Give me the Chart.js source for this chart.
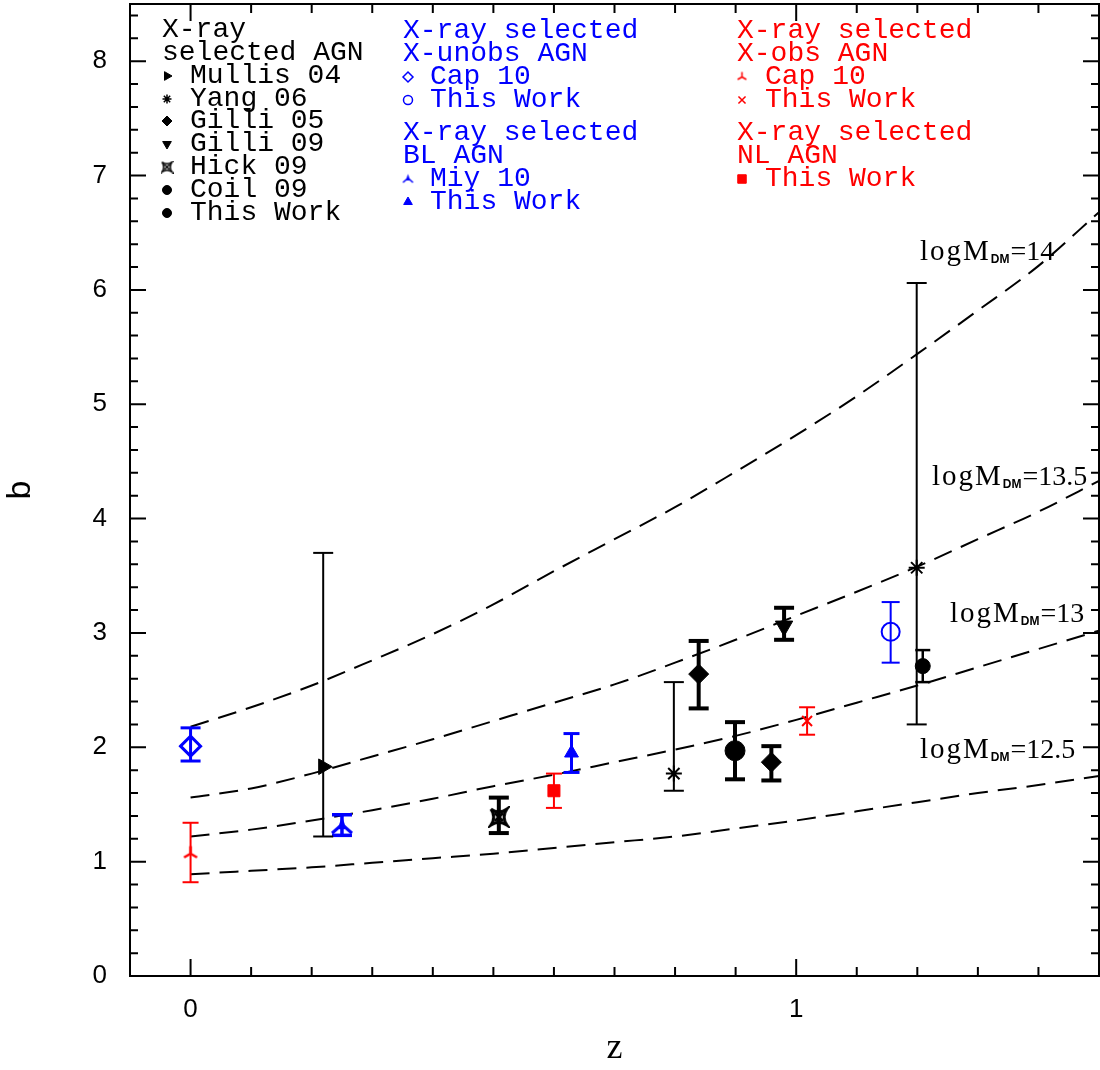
<!DOCTYPE html>
<html>
<head>
<meta charset="utf-8">
<title>AGN bias vs redshift</title>
<script src="https://cdn.jsdelivr.net/npm/chart.js@4.4.1/dist/chart.umd.min.js"></script>
<style>
  html, body { margin: 0; padding: 0; background: #fff; }
  #wrap { width: 1100px; height: 1070px; position: relative; }
</style>
</head>
<body>
<div id="wrap"><canvas id="biasChart"></canvas></div>
<script>
'use strict';

/* ── axes ─────────────────────────────────── */
const X_MIN = -0.1, X_MAX = 1.5;
const Y_MIN = 0,    Y_MAX = 8.5;
const xLabelTicks = [0, 1];
const yLabelTicks = [0, 1, 2, 3, 4, 5, 6, 7, 8];
const xMinorTicks = [-0.1, 0.1, 0.2, 0.3, 0.4, 0.5, 0.6, 0.7, 0.8, 0.9, 1.1, 1.2, 1.3, 1.4];
const yMinorTicks = [0.2, 0.4, 0.6, 0.8, 1.2, 1.4, 1.6, 1.8, 2.2, 2.4, 2.6, 2.8, 3.2, 3.4, 3.6, 3.8,
                     4.2, 4.4, 4.6, 4.8, 5.2, 5.4, 5.6, 5.8, 6.2, 6.4, 6.6, 6.8, 7.2, 7.4, 7.6, 7.8, 8.2, 8.4];

/* ── dark matter halo curves (logM_DM) ────── */
const curveZ   = [0, 0.1, 0.2, 0.3, 0.4, 0.5, 0.6, 0.7, 0.8, 0.9, 1.0, 1.1, 1.2, 1.3, 1.4, 1.5];
const curve14  = [2.18, 2.35, 2.54, 2.76, 2.99, 3.25, 3.54, 3.82, 4.10, 4.41, 4.73, 5.07, 5.44, 5.82, 6.21, 6.68];
const curve135 = [1.56, 1.64, 1.77, 1.92, 2.07, 2.23, 2.39, 2.55, 2.74, 2.94, 3.15, 3.36, 3.58, 3.82, 4.06, 4.33];
const curve13  = [1.22, 1.28, 1.36, 1.45, 1.55, 1.66, 1.76, 1.87, 1.98, 2.10, 2.24, 2.39, 2.54, 2.70, 2.86, 3.02];
const curve125 = [0.89, 0.92, 0.95, 0.99, 1.03, 1.07, 1.12, 1.17, 1.22, 1.29, 1.36, 1.44, 1.52, 1.60, 1.67, 1.75];
const curveMass = ['14', '13.5', '13', '12.5'];

/* ── X-ray selected AGN (black) ───────────── */
const mullisZ = [0.219],        mullisB = [1.83],        mullisLo = [1.22],        mullisHi = [3.70];
const yangZ   = [0.798, 1.199], yangB   = [1.77, 3.57],  yangLo   = [1.62, 2.20],  yangHi   = [2.57, 6.06];
const gil05Z  = [0.839, 0.959], gil05B  = [2.64, 1.87],  gil05Lo  = [2.34, 1.71],  gil05Hi  = [2.93, 2.01];
const gil09Z  = [0.980],        gil09B  = [3.06],        gil09Lo  = [2.94],        gil09Hi  = [3.22];
const hickZ   = [0.509],        hickB   = [1.39],        hickLo   = [1.25],        hickHi   = [1.56];
const coilZ   = [0.899],        coilB   = [1.97],        coilLo   = [1.72],        coilHi   = [2.22];
const twAllZ  = [1.209],        twAllB  = [2.71],        twAllLo  = [2.57],        twAllHi  = [2.85];

/* ── X-unobs / BL AGN (blue) ──────────────── */
const capUnZ  = [0],            capUnB  = [2.01],        capUnLo  = [1.88],        capUnHi  = [2.17];
const twUnZ   = [1.156],        twUnB   = [3.01],        twUnLo   = [2.74],        twUnHi   = [3.27];
const miyZ    = [0.250],        miyB    = [1.31],        miyLo    = [1.23],        miyHi    = [1.41];
const twBlZ   = [0.629],        twBlB   = [1.95],        twBlLo   = [1.78],        twBlHi   = [2.12];

/* ── X-obs / NL AGN (red) ─────────────────── */
const capObZ  = [0],            capObB  = [1.07],        capObLo  = [0.82],        capObHi  = [1.34];
const twObZ   = [1.018],        twObB   = [2.23],        twObLo   = [2.11],        twObHi   = [2.35];
const twNlZ   = [0.600],        twNlB   = [1.62],        twNlLo   = [1.47],        twNlHi   = [1.77];

const BLACK = '#000000', BLUE = '#0000ff', RED = '#ff0000';
const MONO  = '"Liberation Mono", "DejaVu Sans Mono", monospace';
const SANS  = '"Liberation Sans", Arial, sans-serif';
const SERIF = '"Liberation Serif", "Times New Roman", serif';

/* ── custom glyphs ────────────────────────── */
function makeGlyph(size, color, lineW, drawFn) {
  const c = document.createElement('canvas');
  c.width = c.height = size;
  const g = c.getContext('2d');
  g.translate(size / 2, size / 2);
  g.strokeStyle = g.fillStyle = color;
  g.lineWidth = lineW;
  drawFn(g, size / 2 - lineW);
  return c;
}
function hickPath(g, r) {
  const k = r * 0.3;
  g.beginPath();
  g.moveTo(-r, -r);
  g.quadraticCurveTo(0, -k, r, -r);
  g.quadraticCurveTo(k, 0, r, r);
  g.quadraticCurveTo(0, k, -r, r);
  g.quadraticCurveTo(-k, 0, -r, -r);
  g.stroke();
  g.beginPath();
  g.moveTo(-r * 0.5, -r * 0.5); g.lineTo(r * 0.5, r * 0.5);
  g.moveTo(r * 0.5, -r * 0.5);  g.lineTo(-r * 0.5, r * 0.5);
  g.stroke();
}
function capPath(g, r) {
  g.beginPath();
  g.moveTo(0, 0); g.lineTo(0, -r);
  g.moveTo(0, 0); g.lineTo(-r * 0.87, r * 0.5);
  g.moveTo(0, 0); g.lineTo(r * 0.87, r * 0.5);
  g.stroke();
}
function miyPath(g, r) {
  g.beginPath();
  g.moveTo(0, -r); g.lineTo(-r * 0.45, r * 0.3); g.lineTo(r * 0.45, r * 0.3);
  g.closePath(); g.fill();
  g.beginPath();
  g.moveTo(-r * 0.2, 0); g.lineTo(-r, r * 0.7);
  g.moveTo(r * 0.2, 0);  g.lineTo(r, r * 0.7);
  g.stroke();
}

const hickBig  = makeGlyph(22, BLACK, 3,   hickPath);
const hickSm   = makeGlyph(13, BLACK, 1.5, hickPath);
const capBig   = makeGlyph(20, RED,   2.5, capPath);
const capSm    = makeGlyph(13, RED,   1.5, capPath);
const miyBig   = makeGlyph(26, BLUE,  3,   miyPath);
const miySm    = makeGlyph(13, BLUE,  1.5, miyPath);

/* ── series table ─────────────────────────── */
const groups = [
  { z: mullisZ, b: mullisB, lo: mullisLo, hi: mullisHi, color: BLACK, style: 'triangle', rot: 90,  r: 9,   bar: 2, cap: 10 },
  { z: yangZ,   b: yangB,   lo: yangLo,   hi: yangHi,   color: BLACK, style: 'star',     r: 8, lw: 2,  bar: 2, cap: 10, open: true },
  { z: gil05Z,  b: gil05B,  lo: gil05Lo,  hi: gil05Hi,  color: BLACK, style: 'rectRot',  r: 10,  bar: 4, cap: 10 },
  { z: gil09Z,  b: gil09B,  lo: gil09Lo,  hi: gil09Hi,  color: BLACK, style: 'triangle', rot: 180, r: 10,  bar: 4, cap: 10 },
  { z: hickZ,   b: hickB,   lo: hickLo,   hi: hickHi,   color: BLACK, style: hickBig,    r: 9,   bar: 4, cap: 10 },
  { z: coilZ,   b: coilB,   lo: coilLo,   hi: coilHi,   color: BLACK, style: 'circle',   r: 10,  bar: 4, cap: 10 },
  { z: twAllZ,  b: twAllB,  lo: twAllLo,  hi: twAllHi,  color: BLACK, style: 'circle',   r: 7.5, bar: 2.5, cap: 7.5 },
  { z: capUnZ,  b: capUnB,  lo: capUnLo,  hi: capUnHi,  color: BLUE,  style: 'rectRot',  r: 10, lw: 3, bar: 3, cap: 10, open: true },
  { z: twUnZ,   b: twUnB,   lo: twUnLo,   hi: twUnHi,   color: BLUE,  style: 'circle',   r: 9, lw: 2,  bar: 2, cap: 9, open: true },
  { z: miyZ,    b: miyB,    lo: miyLo,    hi: miyHi,    color: BLUE,  style: miyBig,     r: 10,  bar: 3.5, cap: 10 },
  { z: twBlZ,   b: twBlB,   lo: twBlLo,   hi: twBlHi,   color: BLUE,  style: 'triangle', r: 8,   bar: 3, cap: 8 },
  { z: capObZ,  b: capObB,  lo: capObLo,  hi: capObHi,  color: RED,   style: capBig,     r: 8,   bar: 2, cap: 8 },
  { z: twObZ,   b: twObB,   lo: twObLo,   hi: twObHi,   color: RED,   style: 'crossRot', r: 7, lw: 2,  bar: 2, cap: 8, open: true },
  { z: twNlZ,   b: twNlB,   lo: twNlLo,   hi: twNlHi,   color: RED,   style: 'rect',     r: 8.5, bar: 2, cap: 8 },
];

/* ── legend text ──────────────────────────── */
const legendColumns = [
  { color: BLACK, headX: 162, itemX: 190, symX: 167,
    heads: [['X-ray', 37], ['selected AGN', 60]],
    items: [
      ['Mullis 04', 83,  { style: 'triangle', rot: 90, r: 5 }],
      ['Yang 06',   106, { style: 'star', r: 4.5, lw: 1.5, open: true }],
      ['Gilli 05',  128, { style: 'rectRot', r: 5 }],
      ['Gilli 09',  151, { style: 'triangle', rot: 180, r: 5 }],
      ['Hick 09',   174, { style: hickSm, r: 5 }],
      ['Coil 09',   197, { style: 'circle', r: 4.5 }],
      ['This Work', 220, { style: 'circle', r: 4.5 }],
    ] },
  { color: BLUE, headX: 403, itemX: 430, symX: 408,
    heads: [['X-ray selected', 38], ['X-unobs AGN', 61], ['X-ray selected', 140], ['BL AGN', 163]],
    items: [
      ['Cap 10',    84,  { style: 'rectRot', r: 5, lw: 1.5, open: true }],
      ['This Work', 107, { style: 'circle', r: 4.5, lw: 1.5, open: true }],
      ['Miy 10',    186, { style: miySm, r: 5 }],
      ['This Work', 209, { style: 'triangle', r: 5 }],
    ] },
  { color: RED, headX: 737, itemX: 765, symX: 742,
    heads: [['X-ray selected', 38], ['X-obs AGN', 61], ['X-ray selected', 140], ['NL AGN', 163]],
    items: [
      ['Cap 10',    84,  { style: capSm, r: 5 }],
      ['This Work', 107, { style: 'crossRot', r: 5, lw: 1.5, open: true }],
      ['This Work', 186, { style: 'rect', r: 6 }],
    ] },
];
const curveLabelPos = [[920, 260], [932, 485], [950, 622], [920, 758]];

/* ── datasets ─────────────────────────────── */
function curveSet(vals) {
  return {
    data: curveZ.map((z, i) => ({ x: z, y: vals[i] })),
    showLine: true,
    borderColor: BLACK,
    borderWidth: 2,
    borderDash: [19, 10],
    pointRadius: 0,
    cubicInterpolationMode: 'monotone',
    order: 3,
  };
}

function errorSets(g) {
  return g.z.map((z, i) => ({
    data: [{ x: z, y: g.lo[i] }, { x: z, y: g.hi[i] }],
    showLine: true,
    borderColor: g.color,
    borderWidth: g.bar,
    pointStyle: 'line',
    pointRadius: g.cap,
    pointBorderColor: g.color,
    pointBorderWidth: g.bar,
    order: 2,
  }));
}

function markerSet(g) {
  return {
    data: g.z.map((z, i) => ({ x: z, y: g.b[i] })),
    pointStyle: g.style,
    pointRotation: g.rot || 0,
    pointRadius: g.r,
    pointBackgroundColor: g.open ? 'rgba(0,0,0,0)' : g.color,
    pointBorderColor: g.color,
    pointBorderWidth: g.lw || 1,
    order: 0,
  };
}

const datasets = [
  ...[curve14, curve135, curve13, curve125].map(curveSet),
  ...groups.flatMap(errorSets),
  ...groups.map(markerSet),
];

/* ── frame, ticks, legend, labels ─────────── */
function drawSymbol(ctx, sym, x, y, color) {
  ctx.save();
  ctx.fillStyle   = sym.open ? 'rgba(0,0,0,0)' : color;
  ctx.strokeStyle = color;
  ctx.lineWidth   = sym.lw || 1;
  Chart.helpers.drawPoint(ctx, {
    pointStyle: sym.style, radius: sym.r, rotation: sym.rot || 0, borderWidth: sym.lw || 1,
  }, x, y);
  ctx.restore();
}

function drawCurveLabel(ctx, mass, x, y) {
  ctx.fillStyle = BLACK;
  ctx.textBaseline = 'alphabetic';
  ctx.font = '29px ' + SERIF;
  ctx.letterSpacing = '2px';
  ctx.fillText('logM', x, y);
  let w = ctx.measureText('logM').width;
  ctx.font = 'bold 12px ' + SANS;
  ctx.letterSpacing = '0px';
  ctx.fillText('DM', x + w, y + 3);
  w += ctx.measureText('DM').width + 1;
  ctx.font = '28px ' + SERIF;
  ctx.fillText('=' + mass, x + w, y);
}

const framePlugin = {
  id: 'frame',
  afterDraw(chart) {
    const { ctx, chartArea: a, scales: { x, y } } = chart;
    ctx.save();
    ctx.strokeStyle = BLACK;
    ctx.lineWidth = 2;
    ctx.strokeRect(a.left, a.top, a.right - a.left, a.bottom - a.top);

    ctx.beginPath();
    const tickX = (v, len) => {
      const px = x.getPixelForValue(v);
      ctx.moveTo(px, a.bottom); ctx.lineTo(px, a.bottom - len);
      ctx.moveTo(px, a.top);    ctx.lineTo(px, a.top + len);
    };
    const tickY = (v, len) => {
      const py = y.getPixelForValue(v);
      ctx.moveTo(a.left, py);  ctx.lineTo(a.left + len, py);
      ctx.moveTo(a.right, py); ctx.lineTo(a.right - len, py);
    };
    xLabelTicks.forEach(v => tickX(v, 17));
    xMinorTicks.forEach(v => tickX(v, 9));
    yLabelTicks.forEach(v => tickY(v, 16));
    yMinorTicks.forEach(v => tickY(v, 8));
    ctx.stroke();

    // legend
    ctx.font = '28px ' + MONO;
    ctx.textBaseline = 'alphabetic';
    for (const col of legendColumns) {
      ctx.fillStyle = col.color;
      col.heads.forEach(([text, ty]) => ctx.fillText(text, col.headX, ty));
      col.items.forEach(([text, ty, sym]) => {
        ctx.fillStyle = col.color;
        ctx.fillText(text, col.itemX, ty);
        drawSymbol(ctx, sym, col.symX, ty - 7, col.color);
      });
    }

    // halo mass labels
    curveMass.forEach((m, i) => drawCurveLabel(ctx, m, curveLabelPos[i][0], curveLabelPos[i][1]));
    ctx.restore();
  },
};

/* ── chart ────────────────────────────────── */
function zeroPadding(s) {
  s.paddingTop = 0; s.paddingBottom = 0;
  s.paddingLeft = 0; s.paddingRight = 0;
}

function init() {
  const canvas = document.getElementById('biasChart');
  if (!canvas || typeof Chart === 'undefined') return;

  new Chart(canvas.getContext('2d'), {
    type: 'scatter',
    data: { datasets },
    options: {
      responsive: true,
      maintainAspectRatio: false,
      animation: false,
      events: [],
      layout: { autoPadding: false, padding: { top: 4, right: 1, left: 0, bottom: 0 } },
      plugins: { legend: { display: false }, tooltip: { enabled: false } },
      scales: {
        x: {
          type: 'linear', min: X_MIN, max: X_MAX,
          grid: { display: false }, border: { display: false },
          ticks: { color: BLACK, font: { family: SANS, size: 26 }, padding: 10, maxRotation: 0, autoSkip: false,
                   callback: v => String(v) },
          title: { display: true, text: 'z', color: BLACK, font: { family: SERIF, size: 36 }, padding: 0 },
          afterBuildTicks: s => { s.ticks = xLabelTicks.map(v => ({ value: v })); },
          afterFit: s => { s.height = 94; zeroPadding(s); },
        },
        y: {
          type: 'linear', min: Y_MIN, max: Y_MAX,
          grid: { display: false }, border: { display: false },
          ticks: { color: BLACK, font: { family: SANS, size: 26 }, padding: 15, autoSkip: false,
                   callback: v => String(v) },
          title: { display: true, text: 'b', color: BLACK, font: { family: SANS, size: 34 }, padding: 0 },
          afterBuildTicks: s => { s.ticks = yLabelTicks.map(v => ({ value: v })); },
          afterFit: s => { s.width = 130; zeroPadding(s); },
        },
      },
    },
    plugins: [framePlugin],
  });
}

document.addEventListener('DOMContentLoaded', init);
</script>
</body>
</html>
